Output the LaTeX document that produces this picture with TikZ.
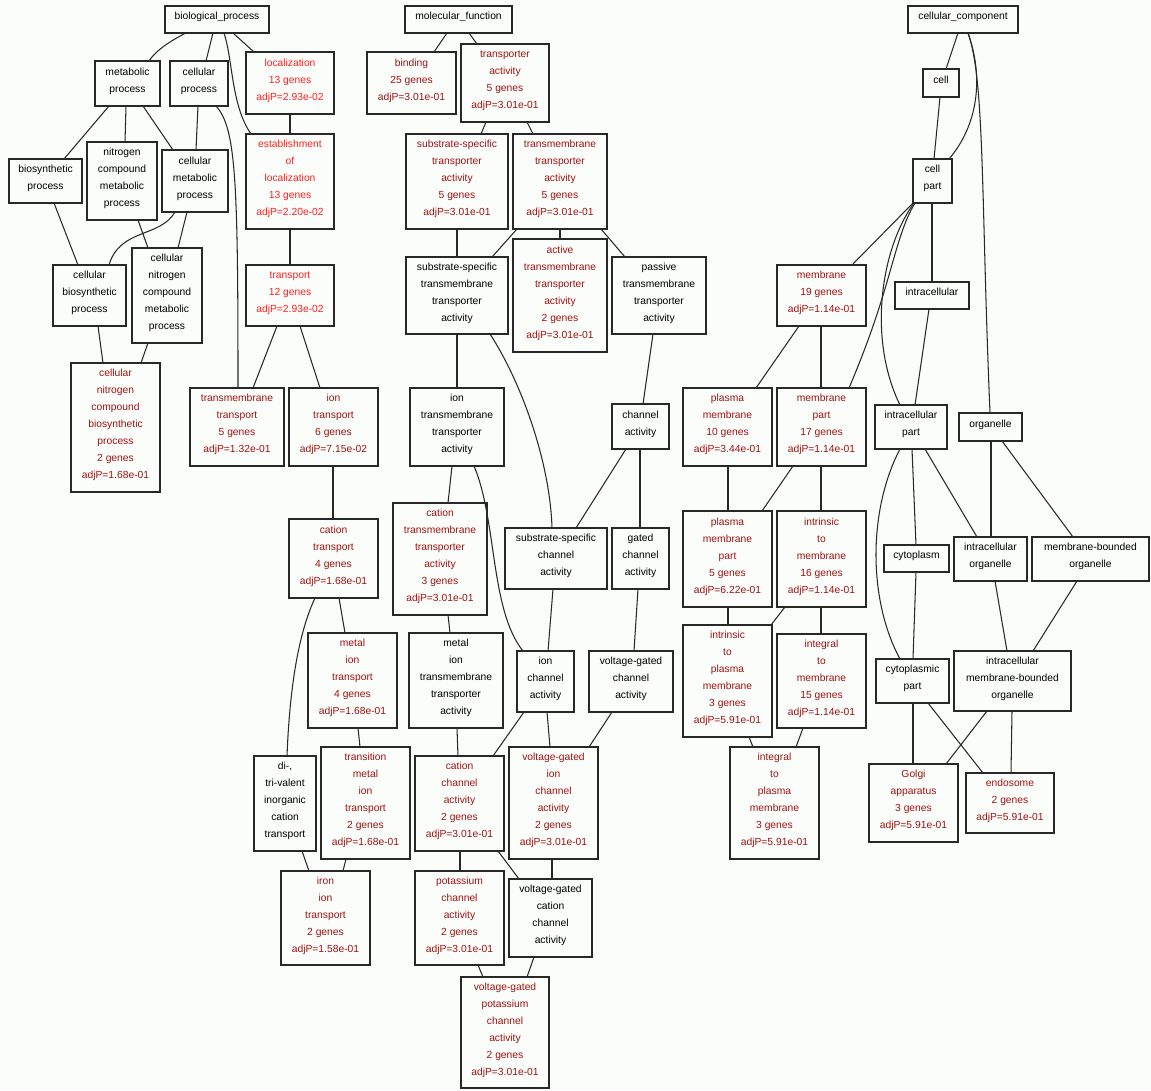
\documentclass[tikz,border=0pt]{standalone}
\usepackage{fontspec}
\setmainfont{Liberation Sans}
\definecolor{bg}{RGB}{251,253,250}
\definecolor{hr}{RGB}{255,32,32}
\definecolor{dr}{RGB}{158,18,18}
\definecolor{ln}{RGB}{40,40,40}
\newcommand\gbox[7]{%
 \pgfmathsetmacro\gcx{(#2+#4)/2}\pgfmathsetmacro\gcy{(#3+#5)/2}%
 \pgfmathsetmacro\gw{#4-#2}\pgfmathsetmacro\gh{#5-#3}%
 \node[box,text=#6,minimum width=\gw pt,minimum height=\gh pt] (#1) at (\gcx,\gcy) {#7};}
\newcommand\myedge[4]{\draw[edge] (#1.south -| #2,0) -- (#3.north -| #4,0);}
\begin{document}
\begin{tikzpicture}[x=1pt,y=-1pt,
 box/.style={draw=ln,line width=1.3pt,rectangle,inner sep=0pt,outer sep=0pt,align=center,fill=bg,text depth=6.5pt,font=\fontsize{10.3}{17}\selectfont},
 edge/.style={draw=ln,line width=1.05pt}]
\fill[bg] (0,0) rectangle (1151,1090);
\useasboundingbox (0,0) rectangle (1151,1090);
% biological process
\gbox{bp}{165}{6}{269}{33}{black}{biological\_process}
\gbox{mp}{95}{61}{160}{106}{black}{metabolic\\process}
\gbox{cp}{170}{61}{228}{106}{black}{cellular\\process}
\gbox{loc}{246}{52}{334}{114}{hr}{localization\\13 genes\\adjP=2.93e-02}
\gbox{bsp}{9}{159}{82}{203}{black}{biosynthetic\\process}
\gbox{ncmp}{87}{142}{157}{220}{black}{nitrogen\\compound\\metabolic\\process}
\gbox{cmp}{162}{150}{228}{212}{black}{cellular\\metabolic\\process}
\gbox{eol}{246}{134}{334}{229}{hr}{establishment\\of\\localization\\13 genes\\adjP=2.20e-02}
\gbox{cbp}{53}{265}{126}{326}{black}{cellular\\biosynthetic\\process}
\gbox{cncmp}{132}{248}{202}{343}{black}{cellular\\nitrogen\\compound\\metabolic\\process}
\gbox{tr}{246}{265}{334}{326}{hr}{transport\\12 genes\\adjP=2.93e-02}
\gbox{cncbp}{71}{363}{160}{492}{dr}{cellular\\nitrogen\\compound\\biosynthetic\\process\\2 genes\\adjP=1.68e-01}
\gbox{tmt}{190}{388}{284}{466}{dr}{transmembrane\\transport\\5 genes\\adjP=1.32e-01}
\gbox{iont}{289}{388}{378}{466}{dr}{ion\\transport\\6 genes\\adjP=7.15e-02}
\gbox{catt}{289}{519}{378}{598}{dr}{cation\\transport\\4 genes\\adjP=1.68e-01}
\gbox{mit}{308}{633}{397}{728}{dr}{metal\\ion\\transport\\4 genes\\adjP=1.68e-01}
\gbox{dtv}{254}{756}{316}{851}{black}{di-,\\tri-valent\\inorganic\\cation\\transport}
\gbox{tmit}{321}{747}{410}{859}{dr}{transition\\metal\\ion\\transport\\2 genes\\adjP=1.68e-01}
\gbox{iit}{281}{871}{370}{965}{dr}{iron\\ion\\transport\\2 genes\\adjP=1.58e-01}
% molecular function
\gbox{mf}{405}{6}{512}{33}{black}{molecular\_function}
\gbox{bind}{367}{52}{456}{114}{dr}{binding\\25 genes\\adjP=3.01e-01}
\gbox{ta}{461}{44}{549}{122}{dr}{transporter\\activity\\5 genes\\adjP=3.01e-01}
\gbox{ssta}{406}{134}{508}{229}{dr}{substrate-specific\\transporter\\activity\\5 genes\\adjP=3.01e-01}
\gbox{tmta}{513}{134}{607}{229}{dr}{transmembrane\\transporter\\activity\\5 genes\\adjP=3.01e-01}
\gbox{sstta}{406}{257}{508}{334}{black}{substrate-specific\\transmembrane\\transporter\\activity}
\gbox{atta}{513}{239}{607}{352}{dr}{active\\transmembrane\\transporter\\activity\\2 genes\\adjP=3.01e-01}
\gbox{ptta}{612}{257}{706}{334}{black}{passive\\transmembrane\\transporter\\activity}
\gbox{itta}{410}{388}{504}{466}{black}{ion\\transmembrane\\transporter\\activity}
\gbox{ca}{612}{404}{669}{449}{black}{channel\\activity}
\gbox{ctta}{393}{503}{487}{615}{dr}{cation\\transmembrane\\transporter\\activity\\3 genes\\adjP=3.01e-01}
\gbox{ssca}{505}{528}{607}{589}{black}{substrate-specific\\channel\\activity}
\gbox{gca}{612}{528}{669}{589}{black}{gated\\channel\\activity}
\gbox{mitta}{409}{633}{503}{728}{black}{metal\\ion\\transmembrane\\transporter\\activity}
\gbox{ica}{517}{651}{574}{712}{black}{ion\\channel\\activity}
\gbox{vgca}{589}{651}{673}{712}{black}{voltage-gated\\channel\\activity}
\gbox{cca}{415}{756}{504}{851}{dr}{cation\\channel\\activity\\2 genes\\adjP=3.01e-01}
\gbox{vgica}{509}{747}{598}{859}{dr}{voltage-gated\\ion\\channel\\activity\\2 genes\\adjP=3.01e-01}
\gbox{pca}{415}{871}{504}{965}{dr}{potassium\\channel\\activity\\2 genes\\adjP=3.01e-01}
\gbox{vgcca}{509}{879}{592}{957}{black}{voltage-gated\\cation\\channel\\activity}
\gbox{vgpca}{461}{977}{549}{1088}{dr}{voltage-gated\\potassium\\channel\\activity\\2 genes\\adjP=3.01e-01}
% cellular component
\gbox{cc}{908}{6}{1018}{33}{black}{cellular\_component}
\gbox{cell}{923}{69}{959}{97}{black}{cell}
\gbox{cpart}{913}{159}{952}{203}{black}{cell\\part}
\gbox{mem}{777}{265}{866}{326}{dr}{membrane\\19 genes\\adjP=1.14e-01}
\gbox{intra}{895}{282}{969}{309}{black}{intracellular}
\gbox{pm}{683}{388}{772}{466}{dr}{plasma\\membrane\\10 genes\\adjP=3.44e-01}
\gbox{mpart}{777}{388}{866}{466}{dr}{membrane\\part\\17 genes\\adjP=1.14e-01}
\gbox{ipart}{875}{405}{947}{449}{black}{intracellular\\part}
\gbox{org}{959}{413}{1022}{441}{black}{organelle}
\gbox{pmp}{683}{511}{772}{607}{dr}{plasma\\membrane\\part\\5 genes\\adjP=6.22e-01}
\gbox{itm}{777}{511}{866}{607}{dr}{intrinsic\\to\\membrane\\16 genes\\adjP=1.14e-01}
\gbox{cyto}{884}{545}{949}{572}{black}{cytoplasm}
\gbox{io}{954}{537}{1027}{581}{black}{intracellular\\organelle}
\gbox{mbo}{1032}{537}{1149}{581}{black}{membrane-bounded\\organelle}
\gbox{itpm}{683}{625}{772}{737}{dr}{intrinsic\\to\\plasma\\membrane\\3 genes\\adjP=5.91e-01}
\gbox{integ}{777}{634}{866}{728}{dr}{integral\\to\\membrane\\15 genes\\adjP=1.14e-01}
\gbox{cytp}{876}{659}{949}{703}{black}{cytoplasmic\\part}
\gbox{imbo}{954}{651}{1071}{711}{black}{intracellular\\membrane-bounded\\organelle}
\gbox{ipm}{730}{747}{819}{859}{dr}{integral\\to\\plasma\\membrane\\3 genes\\adjP=5.91e-01}
\gbox{golgi}{869}{764}{958}{842}{dr}{Golgi\\apparatus\\3 genes\\adjP=5.91e-01}
\gbox{endo}{966}{773}{1054}{833}{dr}{endosome\\2 genes\\adjP=5.91e-01}
% edges: biological process
\draw[edge] (bp.south -| 186,0) .. controls (172,40) and (156,50) .. (mp.north -| 149,0);
\myedge{bp}{213}{cp}{206}
\draw[edge] (bp.south -| 224,0) .. controls (233,60) and (231,105) .. (eol.north -| 251,0);
\myedge{bp}{233}{loc}{254}
\myedge{mp}{109}{bsp}{64}
\myedge{mp}{126}{ncmp}{125}
\myedge{mp}{143}{cmp}{173}
\myedge{cp}{198}{cmp}{196}
\draw[edge] (cp.south -| 216,0) .. controls (236,128) and (238,180) .. (tmt.north -| 238,0);
\myedge{loc}{290}{eol}{290}
\myedge{eol}{290}{tr}{290}
\myedge{bsp}{54}{cbp}{78}
\myedge{ncmp}{138}{cncmp}{148}
\draw[edge] (cmp.south -| 175,0) .. controls (160,238) and (120,228) .. (cbp.north -| 109,0);
\myedge{cmp}{187}{cncmp}{178}
\myedge{tr}{277}{tmt}{253}
\myedge{tr}{300}{iont}{320}
\myedge{cbp}{98}{cncbp}{103}
\myedge{cncmp}{148}{cncbp}{141}
\myedge{iont}{333}{catt}{333}
\myedge{catt}{339}{mit}{345}
\draw[edge] (catt.south -| 315,0) .. controls (300,630) and (290,680) .. (dtv.north -| 287,0);
\myedge{mit}{358}{tmit}{360}
\myedge{dtv}{302}{iit}{309}
\myedge{tmit}{346}{iit}{343}
% edges: molecular function
\myedge{mf}{447}{bind}{434}
\myedge{mf}{469}{ta}{477}
\myedge{ta}{486}{ssta}{481}
\myedge{ta}{527}{tmta}{533}
\myedge{ssta}{457}{sstta}{457}
\myedge{tmta}{517}{sstta}{492}
\myedge{tmta}{560}{atta}{560}
\myedge{tmta}{601}{ptta}{625}
\myedge{sstta}{457}{itta}{457}
\draw[edge] (sstta.south -| 490,0) .. controls (520,380) and (550,460) .. (ssca.north -| 552,0);
\myedge{ptta}{653}{ca}{643}
\myedge{itta}{452}{ctta}{448}
\draw[edge] (itta.south -| 474,0) .. controls (497,520) and (490,610) .. (ica.north -| 523,0);
\myedge{ca}{626}{ssca}{576}
\myedge{ca}{640}{gca}{640}
\myedge{ctta}{448}{mitta}{450}
\myedge{ssca}{553}{ica}{548}
\myedge{gca}{638}{vgca}{634}
\myedge{mitta}{457}{cca}{458}
\myedge{ica}{524}{cca}{493}
\myedge{ica}{547}{vgica}{550}
\myedge{vgca}{612}{vgica}{589}
\myedge{cca}{460}{pca}{460}
\myedge{cca}{498}{vgcca}{519}
\myedge{vgica}{552}{vgcca}{552}
\myedge{pca}{478}{vgpca}{483}
\myedge{vgcca}{534}{vgpca}{527}
% edges: cellular component
\myedge{cc}{958}{cell}{946}
\draw[edge] (cc.south -| 968,0) .. controls (984,78) and (978,125) .. (cpart.north -| 949,0);
\draw[edge] (cc.south -| 968,0) .. controls (985,80) and (981,200) .. (org.north -| 990,0);
\myedge{cell}{940}{cpart}{934}
\myedge{cpart}{913}{mem}{852}
\draw[edge] (cpart.south -| 915,0) .. controls (893,240) and (893,285) .. (mpart.north -| 849,0);
\draw[edge] (cpart.south -| 914,0) .. controls (880,250) and (868,340) .. (ipart.north -| 900,0);
\myedge{cpart}{932}{intra}{932}
\myedge{intra}{929}{ipart}{915}
\myedge{mem}{799}{pm}{756}
\myedge{mem}{821}{mpart}{821}
\myedge{mpart}{793}{pmp}{762}
\myedge{mpart}{821}{itm}{821}
\myedge{pm}{728}{pmp}{728}
\myedge{ipart}{912}{cyto}{916}
\myedge{ipart}{925}{io}{977}
\draw[edge] (ipart.south -| 900,0) .. controls (868,510) and (868,600) .. (cytp.north -| 900,0);
\myedge{org}{991}{io}{991}
\myedge{org}{1002}{mbo}{1073}
\myedge{pmp}{728}{itpm}{728}
\myedge{itm}{785}{itpm}{771}
\myedge{itm}{821}{integ}{821}
\myedge{cyto}{916}{cytp}{913}
\myedge{io}{995}{imbo}{1007}
\myedge{mbo}{1077}{imbo}{1033}
\myedge{itpm}{749}{ipm}{753}
\myedge{integ}{803}{ipm}{796}
\myedge{cytp}{913}{golgi}{913}
\myedge{cytp}{928}{endo}{983}
\myedge{imbo}{987}{golgi}{946}
\myedge{imbo}{1012}{endo}{1011}
\end{tikzpicture}
\end{document}
